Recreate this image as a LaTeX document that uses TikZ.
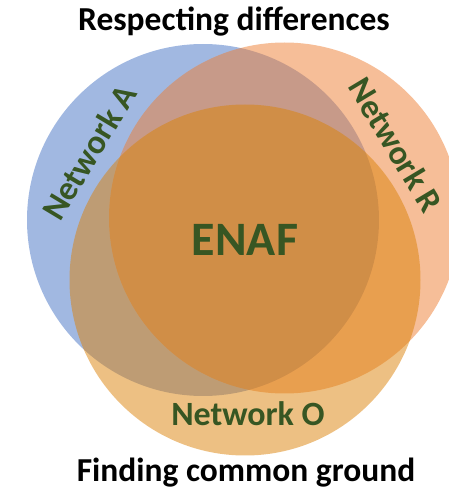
\documentclass[tikz,border=0pt]{standalone}
\usepackage{fontspec}
\setmainfont{Carlito}
\definecolor{cblue}{HTML}{4472C4}
\definecolor{corange}{HTML}{ED7D31}
\definecolor{cgold}{HTML}{DC8208}
\definecolor{cgreen}{HTML}{375623}
\begin{document}
\begin{tikzpicture}[x=1pt,y=1pt,
  venn/.style={fill opacity=0.5, draw=none},
  lab/.style={text=cgreen, font=\bfseries\fontsize{34}{34}\selectfont, inner sep=0pt},
  ttl/.style={text=black, font=\bfseries\fontsize{33.5}{33.5}\selectfont, inner sep=0pt, anchor=base}]
\useasboundingbox (0,0) rectangle (449,491);
\begin{scope}
\clip (0,0) rectangle (449,491);
\fill[venn, cblue] (203,271) circle (176);
\fill[venn, corange] (284.5,273) circle (175.5);
\fill[venn, cgold] (245,211) circle (175.5);
\end{scope}
\node[ttl] (top) at (234,460) {Respecting differences};
\node[ttl] (bottom) at (246,9.5) {Finding common ground};
\node[lab, anchor=base] (enaf) at (245,235.3) {\fontsize{48}{48}\selectfont ENAF};
\node[lab, anchor=base] (netO) at (248,66) {Network O};
\node[lab, rotate=59] (netA) at (89,339) {Network A};
\node[lab, rotate=-59] (netR) at (396,346) {Network R};
\end{tikzpicture}
\end{document}
